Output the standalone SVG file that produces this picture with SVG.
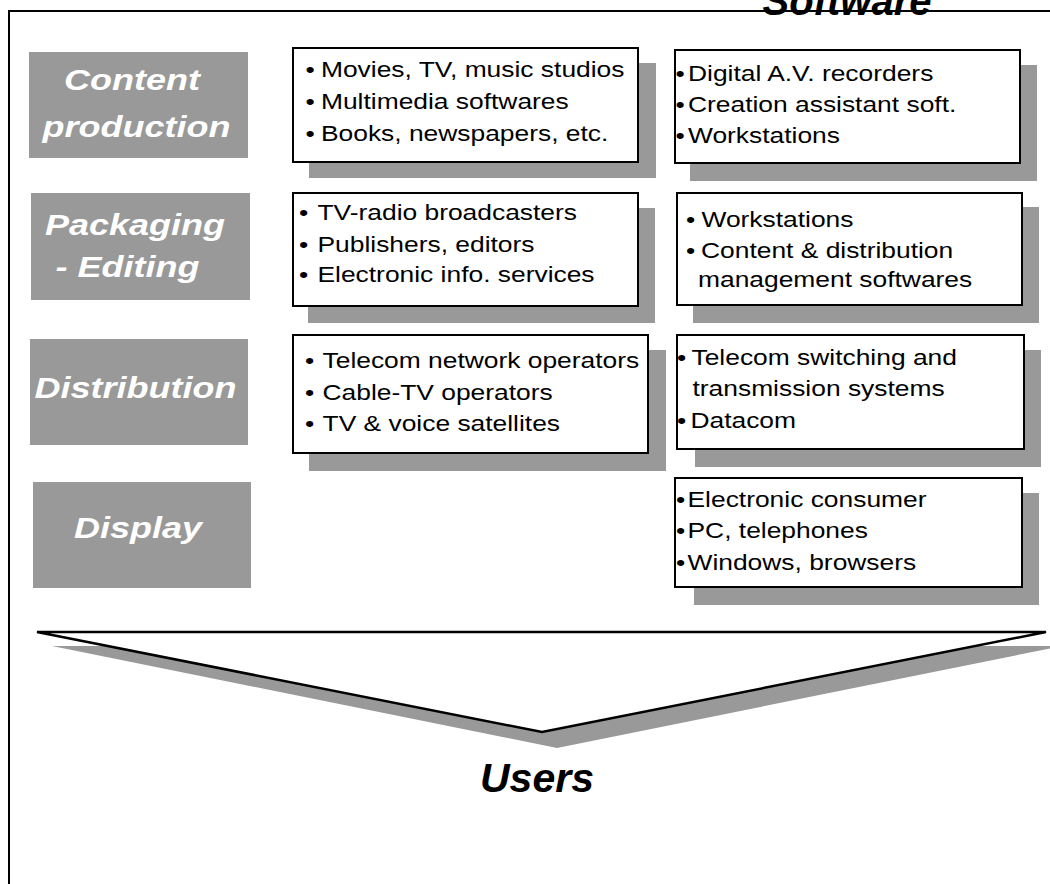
<svg xmlns="http://www.w3.org/2000/svg" width="1050" height="884" viewBox="0 0 1050 884">
<style>
.bg{fill:#ffffff}
.frame{fill:none;stroke:#000;stroke-width:2}
.lab{fill:#999999}
.shd{fill:#999999}
.box{fill:#ffffff;stroke:#000;stroke-width:2}
.lt{font-family:"Liberation Sans",Arial,sans-serif;font-weight:bold;font-style:italic;font-size:30px;fill:#ffffff;text-anchor:middle}
.li{font-family:"Liberation Sans",Arial,sans-serif;font-size:22px;fill:#000}
.big{font-family:"Liberation Sans",Arial,sans-serif;font-weight:bold;font-style:italic;fill:#000;text-anchor:middle}
.tri{fill:#ffffff;stroke:#000;stroke-width:2.5;stroke-linejoin:miter}
</style>
<rect class="bg" x="0" y="0" width="1050" height="884"/>
<rect class="frame" x="9" y="11" width="1060" height="890"/>
<text class="big" font-size="40" x="847" y="15">Software</text>

<g id="label-content">
<rect class="lab" x="29" y="52" width="219" height="106"/>
<text class="lt" transform="translate(132,90) scale(1.2,1)">Content</text>
<text class="lt" transform="translate(136.5,137) scale(1.2,1)">production</text>
</g>
<g id="label-packaging">
<rect class="lab" x="31" y="193" width="219" height="107"/>
<text class="lt" transform="translate(135,235) scale(1.2,1)">Packaging</text>
<text class="lt" transform="translate(127.5,277) scale(1.2,1)">- Editing</text>
</g>
<g id="label-distribution">
<rect class="lab" x="30" y="339" width="218" height="106"/>
<text class="lt" transform="translate(135.5,398) scale(1.2,1)">Distribution</text>
</g>
<g id="label-display">
<rect class="lab" x="33" y="482" width="218" height="106"/>
<text class="lt" transform="translate(138,538) scale(1.2,1)">Display</text>
</g>

<g id="box-production-actors">
<rect class="shd" x="309" y="63" width="347" height="115"/>
<rect class="box" x="293" y="48" width="345" height="114"/>
<text class="li" transform="translate(305.5,77) scale(1.2,1)"><tspan x="0">•</tspan><tspan x="12.9">Movies, TV, music studios</tspan></text>
<text class="li" transform="translate(305.5,109) scale(1.2,1)"><tspan x="0">•</tspan><tspan x="12.9">Multimedia softwares</tspan></text>
<text class="li" transform="translate(305.5,141) scale(1.2,1)"><tspan x="0">•</tspan><tspan x="12.9">Books, newspapers, etc.</tspan></text>
</g>

<g id="box-production-tools">
<rect class="shd" x="690" y="65" width="347" height="116"/>
<rect class="box" x="675" y="50" width="345" height="113"/>
<text class="li" transform="translate(675.5,81) scale(1.2,1)"><tspan x="0">•</tspan><tspan x="10.4">Digital A.V. recorders</tspan></text>
<text class="li" transform="translate(675.5,112) scale(1.2,1)"><tspan x="0">•</tspan><tspan x="10.4">Creation assistant soft.</tspan></text>
<text class="li" transform="translate(675.5,143) scale(1.2,1)"><tspan x="0">•</tspan><tspan x="10.4">Workstations</tspan></text>
</g>

<g id="box-packaging-actors">
<rect class="shd" x="308" y="208" width="347" height="115"/>
<rect class="box" x="293" y="193" width="345" height="113"/>
<text class="li" transform="translate(299,220) scale(1.2,1)"><tspan x="0">•</tspan><tspan x="15.4">TV-radio broadcasters</tspan></text>
<text class="li" transform="translate(299,252) scale(1.2,1)"><tspan x="0">•</tspan><tspan x="15.4">Publishers, editors</tspan></text>
<text class="li" transform="translate(299,282) scale(1.2,1)"><tspan x="0">•</tspan><tspan x="15.4">Electronic info. services</tspan></text>
</g>

<g id="box-packaging-tools">
<rect class="shd" x="693" y="207" width="346" height="116"/>
<rect class="box" x="677" y="193" width="345" height="112"/>
<text class="li" transform="translate(686,227) scale(1.2,1)"><tspan x="0">•</tspan><tspan x="12.9">Workstations</tspan></text>
<text class="li" transform="translate(686,258) scale(1.2,1)"><tspan x="0">•</tspan><tspan x="12.5">Content &amp; distribution</tspan></text>
<text class="li" transform="translate(698,287) scale(1.2,1)">management softwares</text>
</g>

<g id="box-distribution-actors">
<rect class="shd" x="309" y="350" width="357" height="121"/>
<rect class="box" x="293" y="335" width="355" height="118"/>
<text class="li" transform="translate(305,368) scale(1.2,1)"><tspan x="0">•</tspan><tspan x="14.6">Telecom network operators</tspan></text>
<text class="li" transform="translate(305,400) scale(1.2,1)"><tspan x="0">•</tspan><tspan x="14.6">Cable-TV operators</tspan></text>
<text class="li" transform="translate(305,431) scale(1.2,1)"><tspan x="0">•</tspan><tspan x="14.6">TV &amp; voice satellites</tspan></text>
</g>

<g id="box-distribution-tools">
<rect class="shd" x="695" y="350" width="346" height="117"/>
<rect class="box" x="677" y="335" width="347" height="114"/>
<text class="li" transform="translate(677,365) scale(1.2,1)"><tspan x="0">•</tspan><tspan x="12.1">Telecom switching and</tspan></text>
<text class="li" transform="translate(692.5,396) scale(1.2,1)">transmission systems</text>
<text class="li" transform="translate(677,428) scale(1.2,1)"><tspan x="0">•</tspan><tspan x="11.2">Datacom</tspan></text>
</g>

<g id="box-display-tools">
<rect class="shd" x="694" y="493" width="345" height="112"/>
<rect class="box" x="675" y="478" width="347" height="109"/>
<text class="li" transform="translate(676,507) scale(1.2,1)"><tspan x="0">•</tspan><tspan x="9.6">Electronic consumer</tspan></text>
<text class="li" transform="translate(676,538) scale(1.2,1)"><tspan x="0">•</tspan><tspan x="9.6">PC, telephones</tspan></text>
<text class="li" transform="translate(676,570) scale(1.2,1)"><tspan x="0">•</tspan><tspan x="9.6">Windows, browsers</tspan></text>
</g>

<g id="connectors">
<polygon class="shd" points="52,646 1062,646 557,748"/>
<polygon class="tri" points="37,632 1046,632 542,732"/>
</g>

<g id="users">
<text class="big" font-size="41" x="537" y="792">Users</text>
</g>
</svg>
